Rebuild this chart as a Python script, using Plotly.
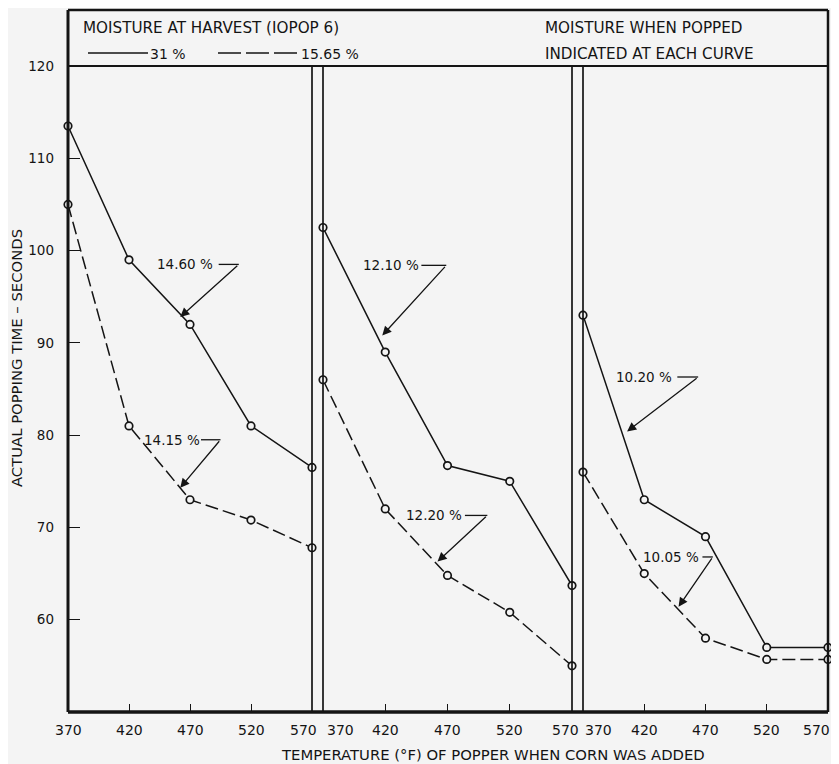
import plotly.graph_objects as go

# ---------------- data ----------------
temps = [370, 420, 470, 520, 570]
tick_labels = ["370", "420", "470", "520", "570"]
y_ticks = [60, 70, 80, 90, 100, 110, 120]

solid_p1 = [113.5, 99, 92, 81, 76.5]     # 31 % harvest moisture
dashed_p1 = [105, 81, 73, 70.8, 67.8]    # 15.65 % harvest moisture
solid_p2 = [102.5, 89, 76.7, 75, 63.7]
dashed_p2 = [86, 72, 64.8, 60.8, 55]
solid_p3 = [93, 73, 69, 57, 57]
dashed_p3 = [76, 65, 58, 55.7, 55.7]

curve_labels = ["14.60 %", "14.15 %", "12.10 %", "12.20 %", "10.20 %", "10.05 %"]

# ---------------- layout helpers ----------------
# page body has an 8px margin, so the figure is 8px smaller than the window
OFF = 8
W, H = 839 - OFF, 764 - OFF
PLOT_L, PLOT_R, PLOT_T, PLOT_B = 68, 828, 66, 712   # page pixels
ML, MR = PLOT_L - OFF, W - (PLOT_R - OFF)
MT, MB = PLOT_T - OFF, H - (PLOT_B - OFF)
PW, PH = PLOT_R - PLOT_L, PLOT_B - PLOT_T
BG = "#f4f4f4"
INK = "#141414"
FONT = "DejaVu Sans"


def px_x(p):
    return (p - PLOT_L) / PW


def px_y(p):
    return (PLOT_B - p) / PH


domains = [[0, px_x(312)], [px_x(323), px_x(572)], [px_x(583), 1]]
axis_ids = ["x", "x2", "x3"]
panels = [(solid_p1, dashed_p1), (solid_p2, dashed_p2), (solid_p3, dashed_p3)]

fig = go.Figure()
for xid, (sol, das) in zip(axis_ids, panels):
    for vals, dash in ((sol, "solid"), (das, "13px,5px")):
        fig.add_trace(go.Scatter(
            x=temps, y=vals, xaxis=xid, yaxis="y",
            mode="lines+markers", cliponaxis=False, showlegend=False,
            line=dict(color=INK, width=1.5, dash=dash),
            marker=dict(symbol="circle", size=7.5, color=BG,
                        line=dict(color=INK, width=1.7)),
            hoverinfo="skip"))

xaxis_common = dict(range=[370, 570], showgrid=False, zeroline=False,
                    showline=False, showticklabels=False,
                    tickvals=temps, ticks="inside", ticklen=8,
                    tickwidth=1.4, tickcolor=INK, anchor="y")
layout_axes = {}
for i, xid in enumerate(axis_ids):
    key = "xaxis" if i == 0 else f"xaxis{i + 1}"
    layout_axes[key] = dict(xaxis_common, domain=domains[i])

fig.update_layout(
    **layout_axes,
    yaxis=dict(range=[50, 120], domain=[0, 1], anchor="x",
               showgrid=False, zeroline=False, showline=False,
               tickvals=y_ticks, ticktext=[str(v) for v in y_ticks],
               ticks="inside", ticklen=12, tickwidth=1.4, tickcolor=INK,
               ticklabelstandoff=13,
               tickfont=dict(family=FONT, size=13.5, color=INK)),
    width=W, height=H,
    margin=dict(l=ML, r=MR, t=MT, b=MB, pad=0),
    paper_bgcolor=BG, plot_bgcolor=BG,
    font=dict(family=FONT, color=INK),
)

# ---------------- frame lines ----------------
top = px_y(10)
shapes = [
    dict(type="line", xref="paper", yref="paper", x0=0, x1=1, y0=top, y1=top,
         line=dict(color=INK, width=2.5)),
    dict(type="line", xref="paper", yref="paper", x0=0, x1=1, y0=1, y1=1,
         line=dict(color=INK, width=2)),
    dict(type="line", xref="paper", yref="paper", x0=0, x1=0, y0=0, y1=top,
         line=dict(color=INK, width=3)),
    dict(type="line", xref="paper", yref="paper", x0=1, x1=1, y0=0, y1=top,
         line=dict(color=INK, width=2.5)),
    dict(type="line", xref="paper", yref="paper", x0=0, x1=1, y0=0, y1=0,
         line=dict(color=INK, width=3.5)),
]
for p in (312, 323, 572, 583):
    shapes.append(dict(type="line", xref="paper", yref="paper",
                       x0=px_x(p), x1=px_x(p), y0=0, y1=1,
                       line=dict(color=INK, width=1.7)))
# header legend samples
shapes.append(dict(type="line", xref="paper", yref="paper",
                   x0=px_x(88), x1=px_x(148), y0=px_y(53), y1=px_y(53),
                   line=dict(color=INK, width=1.5)))
shapes.append(dict(type="line", xref="paper", yref="paper",
                   x0=px_x(218), x1=px_x(300), y0=px_y(53), y1=px_y(53),
                   line=dict(color=INK, width=1.5, dash="23px,5px")))

annotations = []


def ptext(text, x, y, xanchor="left", size=13, angle=0):
    annotations.append(dict(text=text, xref="paper", yref="paper",
                            x=px_x(x), y=px_y(y), xanchor=xanchor,
                            yanchor="middle", showarrow=False, textangle=angle,
                            font=dict(family=FONT, size=size, color=INK)))


ptext("MOISTURE AT HARVEST (IOPOP 6)", 81, 28, size=15.2)
ptext("31 %", 148, 54, size=14)
ptext("15.65 %", 299, 54, size=14)
ptext("MOISTURE WHEN POPPED", 543, 28, size=15.2)
ptext("INDICATED AT EACH CURVE", 543, 54, size=15.2)
ptext("TEMPERATURE (°F) OF POPPER WHEN CORN WAS ADDED", 493, 754, "center", 14.8)
ptext("ACTUAL POPPING TIME – SECONDS", 16, 358, "center", 14.8, -90)

# x tick labels (edge labels nudged inward as in the original)
label_shift = [[0, 0, 0, 0, -9], [17, 0, 0, 0, -7], [15, 0, 0, 0, -12]]
for xid, shifts in zip(axis_ids, label_shift):
    for t, lab, s in zip(temps, tick_labels, shifts):
        annotations.append(dict(text=lab, xref=xid, yref="paper", x=t,
                                y=px_y(730), xshift=s, xanchor="center",
                                yanchor="middle", showarrow=False,
                                font=dict(family=FONT, size=14, color=INK)))

# curve labels: (axis, text x, text y, leader start x, knee x, tip x, tip y)
label_geo = [
    ("x", 466, 98.5, 493.5, 510, 462, 92.8),
    ("x", 455, 79.5, 479, 495, 462, 74.3),
    ("x2", 425, 98.4, 449, 469, 417.6, 90.8),
    ("x2", 459, 71.3, 484, 502, 462, 66.3),
    ("x3", 420, 86.3, 447, 464, 406, 80.4),
    ("x3", 442, 66.8, 467.5, 476, 448, 61.4),
]
for lab, (xid, tx, ty, lx0, kx, ax_, ay_) in zip(curve_labels, label_geo):
    annotations.append(dict(text=lab, xref=xid, yref="y", x=tx, y=ty,
                            xanchor="center", yanchor="middle",
                            showarrow=False,
                            font=dict(family=FONT, size=13.5, color=INK)))
    shapes.append(dict(type="line", xref=xid, yref="y", x0=lx0, x1=kx,
                       y0=ty, y1=ty, line=dict(color=INK, width=1.3)))
    annotations.append(dict(text="", xref=xid, yref="y", x=ax_, y=ay_,
                            axref=xid, ayref="y", ax=kx, ay=ty,
                            showarrow=True, arrowhead=2, arrowsize=1.4,
                            arrowwidth=1.3, arrowcolor=INK, standoff=0,
                            startstandoff=0))

fig.update_layout(shapes=shapes, annotations=annotations)
fig.write_html("out.html")
